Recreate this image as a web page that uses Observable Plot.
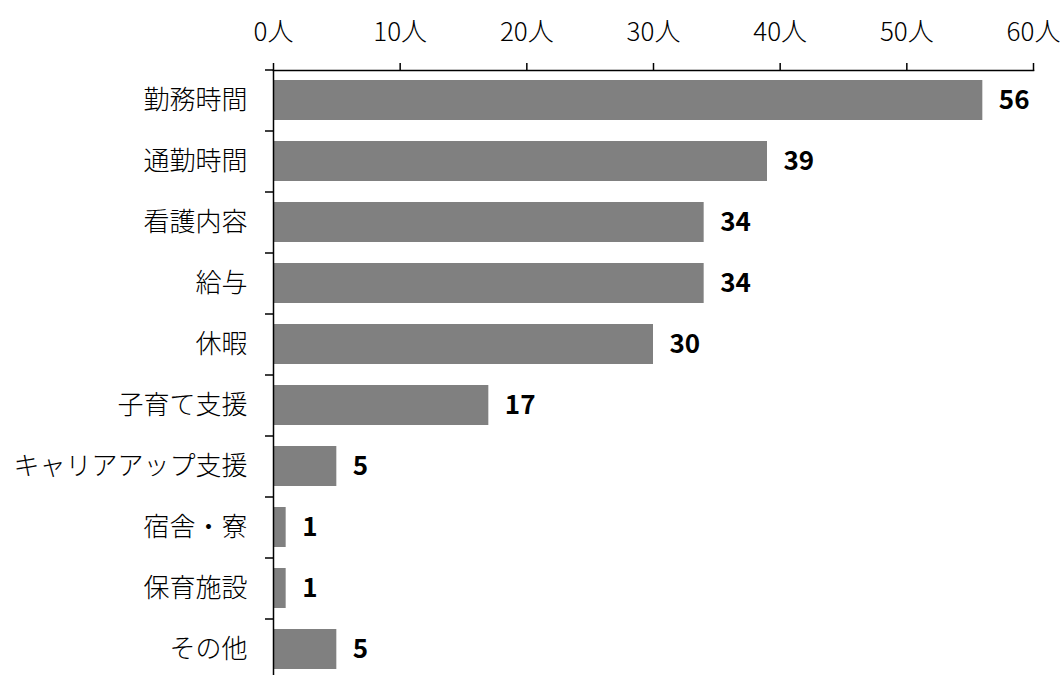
<!DOCTYPE html>
<html>
<head>
<meta charset="utf-8">
<script src="https://cdn.jsdelivr.net/npm/d3@7"></script>
<script src="https://cdn.jsdelivr.net/npm/@observablehq/plot@0.6"></script>
<style>
  html, body { margin: 0; padding: 0; background: #fff; overflow: hidden; }
</style>
</head>
<body>
<div id="chart"></div>
<script>
const categories = ["勤務時間", "通勤時間", "看護内容", "給与", "休暇", "子育て支援", "キャリアアップ支援", "宿舎・寮", "保育施設", "その他"];
const counts = [56, 39, 34, 34, 30, 17, 5, 1, 1, 5];
const xTicks = [0, 10, 20, 30, 40, 50, 60];

const data = categories.map((c, i) => ({category: c, count: counts[i]}));

const H = 680, MT = 70;
const step = (H - MT) / categories.length;

const chart = Plot.plot({
  width: 1064,
  height: H,
  marginLeft: 273,
  marginRight: 31,
  marginTop: MT,
  marginBottom: 0,
  style: {fontFamily: "'Noto Sans CJK JP', sans-serif", fontSize: "26px", color: "#000", background: "#fff"},
  x: {domain: [0, 60], axis: null},
  y: {domain: categories, paddingInner: 0.34, paddingOuter: 0.17, axis: null},
  marks: [
    Plot.barX(data, {x: "count", y: "category", fill: "#808080"}),
    Plot.text(data, {x: "count", y: "category", text: d => String(d.count), textAnchor: "start", dx: 16, fontWeight: "bold", fontSize: 26, fill: "#000"}),
    Plot.axisX({anchor: "top", ticks: xTicks, tickSize: 8, tickPadding: 22, tickFormat: d => d + "人", fontSize: 26, fontWeight: 300, strokeWidth: 1.5, label: null}),
    Plot.axisY({tickSize: 0, tickPadding: 26, fontSize: 26, fontWeight: 300, label: null}),
    Plot.ruleY(categories, {y: d => d, x1: 0, x2: 0, insetLeft: -8, dy: -step / 2, stroke: "#000", strokeWidth: 1.5}),
    Plot.frame({anchor: "top", stroke: "#000", strokeWidth: 1.5}),
    Plot.ruleX([0], {stroke: "#000", strokeWidth: 1.5})
  ]
});
document.getElementById("chart").append(chart);
</script>
</body>
</html>
